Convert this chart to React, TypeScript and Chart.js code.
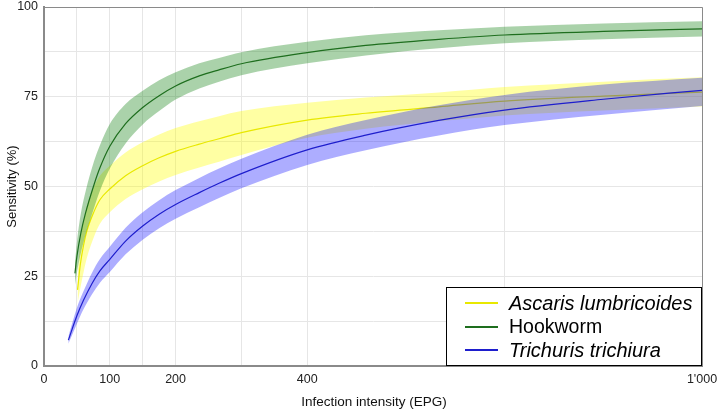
import React, { useEffect, useRef } from "react";
import { Chart, registerables } from "chart.js";

Chart.register(...registerables);

// Axis ticks / grid
const X_GRID = [0, 50, 100, 150, 200, 300, 400, 700, 1000];
const X_LABELS = [0, 100, 200, 400, 1000];
const Y_LABELS = [0, 25, 50, 75, 100];

// Ascaris lumbricoides
const ascarisX = [51, 55, 60, 65, 76, 85, 100, 124, 150, 175, 200, 236, 266, 300, 400, 489, 600, 700, 850, 1000];
const ascarisMid = [21.2, 28, 33.5, 37.5, 43, 46.3, 49.3, 53, 55.8, 58, 59.8, 61.8, 63.3, 65, 68.5, 70.4, 72.2, 73.8, 75.2, 76.3];
const ascarisLow = [17.5, 21.5, 26, 30, 36, 39.6, 42.8, 46.5, 49.2, 51.4, 53.2, 55.3, 56.9, 58.8, 63.6, 66.1, 68.2, 69.8, 71.2, 72.3];
const ascarisHigh = [25, 34, 40.5, 44.5, 50, 53, 55.8, 59.5, 62.3, 64.5, 66.3, 68.2, 69.6, 71, 73.3, 74.8, 76.2, 77.7, 79.2, 80.4];

// Hookworm
const hookX = [47, 50, 56, 63, 76, 85, 100, 124, 150, 175, 200, 236, 266, 300, 400, 489, 600, 700, 850, 1000];
const hookMid = [25.8, 30.5, 37, 42.5, 50.5, 55.2, 61.2, 67.5, 72, 75.3, 78, 80.8, 82.5, 84.2, 87.3, 89.3, 91, 92.2, 93.2, 93.9];
const hookLow = [22.5, 26, 31.5, 36.5, 44, 48.8, 55, 62, 67.3, 71, 74.2, 77.3, 79.2, 81, 84.3, 86.5, 88.5, 89.9, 91, 91.8];
const hookHigh = [28.5, 34.5, 42.5, 48.5, 57, 61.5, 67.4, 73, 76.7, 79.6, 81.8, 84.3, 85.8, 87.4, 90.3, 92.1, 93.5, 94.5, 95.4, 96];

// Trichuris trichiura
const trichX = [37, 50, 60, 73, 85, 100, 124, 150, 175, 200, 236, 266, 300, 400, 489, 600, 700, 850, 1000];
const trichMid = [7.2, 14, 18.3, 23, 26.5, 29.7, 34.8, 39, 42.3, 45, 48.3, 50.9, 53.6, 60.2, 64.3, 68.4, 71.3, 74.3, 76.8];
const trichLow = [6.2, 11.8, 15.8, 20, 23.2, 26.2, 31.1, 35.2, 38.4, 41, 44.2, 46.8, 49.5, 56, 60.1, 64.2, 67.1, 70, 72.4];
const trichHigh = [8.2, 16.2, 20.8, 26, 29.8, 33.2, 38.5, 42.8, 46.2, 49, 52.4, 55, 57.7, 64.4, 68.5, 72.6, 75.5, 78.4, 80.3];

const SERIES_NAMES = ["Ascaris lumbricoides", "Hookworm", "Trichuris trichiura"];
const SERIES_ITALIC = [true, false, true];
const LINE_COLORS = ["rgb(232,232,0)", "rgb(30,110,30)", "rgb(30,30,205)"];
const BAND_COLORS = ["rgba(255,255,0,0.36)", "rgba(20,130,20,0.36)", "rgba(0,0,255,0.32)"];

const pts = (xs: number[], ys: number[]) => xs.map((x, i) => ({ x, y: ys[i] }));

const FONT = "'Liberation Sans', Arial, sans-serif";

export default function App() {
  const ref = useRef<HTMLCanvasElement | null>(null);

  useEffect(() => {
    document.body.style.margin = "0";
    const canvas = ref.current;
    if (!canvas) return;

    const groups = [
      [ascarisX, ascarisLow, ascarisHigh, ascarisMid],
      [hookX, hookLow, hookHigh, hookMid],
      [trichX, trichLow, trichHigh, trichMid],
    ] as number[][][];

    const datasets: any[] = [];
    groups.forEach((g, si) => {
      const [xs, lo, hi, mid] = g;
      const base = (3 - si) * 3;
      datasets.push({
        label: SERIES_NAMES[si] + " low",
        data: pts(xs, lo),
        borderWidth: 0,
        borderColor: "rgba(0,0,0,0)",
        pointRadius: 0,
        fill: false,
        cubicInterpolationMode: "monotone",
        order: base,
      });
      datasets.push({
        label: SERIES_NAMES[si] + " high",
        data: pts(xs, hi),
        borderWidth: 0,
        borderColor: "rgba(0,0,0,0)",
        backgroundColor: BAND_COLORS[si],
        pointRadius: 0,
        fill: "-1",
        cubicInterpolationMode: "monotone",
        order: base - 1,
      });
      datasets.push({
        label: SERIES_NAMES[si],
        data: pts(xs, mid),
        borderWidth: 1.2,
        borderColor: LINE_COLORS[si],
        pointRadius: 0,
        fill: false,
        cubicInterpolationMode: "monotone",
        order: base - 2,
      });
    });

    const decor = {
      id: "decor",
      afterDraw(chart: any) {
        const { ctx, chartArea } = chart;
        const { left, right, top, bottom } = chartArea;
        ctx.save();
        // frame top / right
        ctx.strokeStyle = "#8a8a8a";
        ctx.lineWidth = 1;
        ctx.beginPath();
        ctx.moveTo(left, top + 0.5);
        ctx.lineTo(right + 0.5, top + 0.5);
        ctx.lineTo(right + 0.5, bottom);
        ctx.stroke();

        // legend
        const bx = right - 256;
        const by = bottom - 79;
        ctx.fillStyle = "#ffffff";
        ctx.fillRect(bx, by, 256, 79);
        ctx.strokeStyle = "#000000";
        ctx.lineWidth = 1;
        ctx.strokeRect(bx + 0.5, by + 0.5, 255, 78);
        const rows = [by + 16, by + 40, by + 63];
        rows.forEach((ry, i) => {
          ctx.strokeStyle = LINE_COLORS[i];
          ctx.lineWidth = 2;
          ctx.beginPath();
          ctx.moveTo(bx + 19, ry);
          ctx.lineTo(bx + 52, ry);
          ctx.stroke();
          ctx.fillStyle = "#000";
          ctx.font = (SERIES_ITALIC[i] ? "italic 20px " : "19.5px ") + FONT;
          ctx.textBaseline = "middle";
          ctx.textAlign = "left";
          ctx.fillText(SERIES_NAMES[i], bx + 63, ry + 1);
        });

        // axis titles
        ctx.fillStyle = "#111";
        ctx.textAlign = "center";
        ctx.textBaseline = "middle";
        ctx.font = "13.5px " + FONT;
        ctx.fillText("Infection intensity (EPG)", (left + right) / 2 + 1, 402);
        ctx.font = "13px " + FONT;
        ctx.translate(12, (top + bottom) / 2);
        ctx.rotate(-Math.PI / 2);
        ctx.fillText("Sensitivity (%)", 0, 0);
        ctx.restore();
      },
    };

    const chart = new Chart(canvas, {
      type: "line",
      data: { datasets },
      options: {
        animation: false,
        responsive: false,
        maintainAspectRatio: false,
        layout: { padding: { top: 7, right: 17, left: 0, bottom: 0 } },
        plugins: {
          legend: { display: false },
          tooltip: { enabled: false },
          filler: { propagate: false },
        },
        scales: {
          x: {
            type: "linear",
            min: 0,
            max: 1000,
            afterBuildTicks: (scale: any) => {
              scale.ticks = X_GRID.map((v) => ({ value: v }));
            },
            afterFit: (scale: any) => {
              scale.height = 44;
              scale.paddingLeft = 0;
              scale.paddingRight = 0;
            },
            grid: { color: "#e6e6e6", lineWidth: 1, drawTicks: false },
            border: { color: "#8a8a8a", width: 2 },
            ticks: {
              padding: 6,
              autoSkip: false,
              maxRotation: 0,
              color: "#222",
              font: { family: FONT, size: 12.5 },
              callback: (v: any) => {
                const n = Number(v);
                if (!X_LABELS.includes(n)) return "";
                return n === 1000 ? "1'000" : String(n);
              },
            },
          },
          y: {
            type: "linear",
            min: 0,
            max: 100,
            afterFit: (scale: any) => {
              scale.width = 44;
              scale.paddingTop = 0;
              scale.paddingBottom = 0;
            },
            grid: { color: "#e6e6e6", lineWidth: 1, drawTicks: false },
            border: { color: "#8a8a8a", width: 2 },
            ticks: {
              stepSize: 12.5,
              padding: 6,
              autoSkip: false,
              color: "#222",
              font: { family: FONT, size: 12.5 },
              callback: (v: any) => {
                const n = Number(v);
                return Y_LABELS.includes(n) ? String(n) : "";
              },
            },
          },
        },
      } as any,
      plugins: [decor],
    });

    return () => chart.destroy();
  }, []);

  return (
    <div style={{ width: 719, height: 410 }}>
      <canvas ref={ref} width={719} height={410} style={{ display: "block" }} />
    </div>
  );
}
